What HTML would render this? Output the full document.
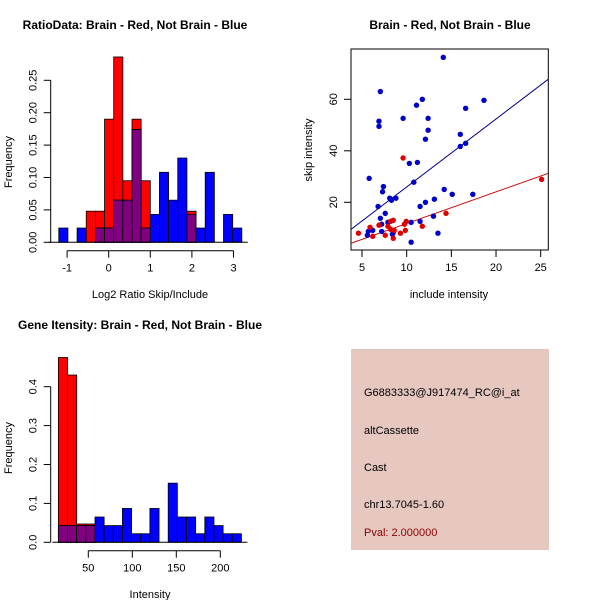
<!DOCTYPE html>
<html><head><meta charset="utf-8"><style>
body{margin:0;background:#fff}
svg{display:block;font-family:"Liberation Sans",sans-serif}
</style></head><body>
<svg id="c" width="600" height="600" viewBox="0 0 600 600">
<rect x="0" y="0" width="600" height="600" fill="#fff"/>
<g id="info">
<rect x="351" y="349" width="198" height="201" fill="#E6C8C1"/>
<text x="364" y="396" font-size="11">G6883333@J917474_RC@i_at</text>
<text x="364" y="434" font-size="11">altCassette</text>
<text x="364" y="471" font-size="11">Cast</text>
<text x="364" y="508" font-size="11">chr13.7045-1.60</text>
<text x="364" y="536" font-size="11" fill="#8B0000">Pval: 2.000000</text>
</g>
</svg>
<script>
// Panel 1: ratio histogram
const ratioBreakStart = -1.2, ratioBinWidth = 0.22;
const ratioRed = [0,0,0,0.048,0.048,0.19,0.286,0.095,0.19,0.095,0,0,0,0,0.048,0,0,0,0,0];
const ratioBlue = [0.022,0,0.022,0,0.022,0.022,0.065,0.065,0.174,0.022,0.043,0.108,0.065,0.13,0.043,0.022,0.108,0,0.043,0.022];
const ratioXTicks = [-1,0,1,2,3];
const ratioYTicks = [0,0.05,0.10,0.15,0.20,0.25];
const ratioYLabels = ["0.00","0.05","0.10","0.15","0.20","0.25"];
// Panel 2: scatter
const blueInclude = [14.1,7.05,11.75,18.65,11.1,16.6,6.9,6.9,9.6,12.4,12.4,12.1,16,16.6,16,11.2,10.3,10.8,5.8,7.4,7.3,14.2,15.1,17.4,8.8,8.1,8.3,13.1,12.1,11.5,6.8,7.6,13,7.05,7.9,7.2,11.5,10.5,5.7,6.2,7.2,8.5,8.4,5.6,13.5,10.5];
const blueSkip = [76.3,63,60,59.6,57.7,56.5,51.5,49.5,52.6,52.6,48,44.5,46.4,42.9,41.7,35.5,35.1,27.8,29.3,26.1,24.1,25,23.1,23.1,21.6,21.6,20.8,21.2,20,18.4,18.4,15.7,14.6,13.8,12.2,11.5,12.6,12.2,8.7,9.1,8.7,8.3,7.6,7.2,8,4.5];
const redInclude = [4.6,5.9,6.2,6.9,7.6,7.9,8.2,8.5,8.2,8.6,8.5,9.3,9.75,9.95,9.85,9.6,11.75,14.4,25.1];
const redSkip = [8,10.3,6.8,11.1,7.2,10.7,9.5,13,12.6,9.1,6,8,11.5,12.6,9.1,37.2,10.7,15.7,28.9];
const blueFit = [-0.45, 2.64]; // intercept, slope
const redFit = [-0.54, 1.23];
const scatXTicks = [5,10,15,20,25];
const scatYTicks = [20,40,60];
// Panel 3: intensity histogram
const intBreakStart = 16, intBinWidth = 10.4;
const intRed = [0.475,0.43,0.047,0.047,0,0,0,0,0,0,0,0,0,0,0,0,0,0,0,0];
const intBlue = [0.043,0.043,0.043,0.043,0.065,0.043,0.043,0.087,0.022,0.022,0.087,0,0.152,0.065,0.065,0.022,0.065,0.043,0.022,0.022];
const intXTicks = [50,100,150,200];
const intYTicks = [0,0.1,0.2,0.3,0.4];
const intYLabels = ["0.0","0.1","0.2","0.3","0.4"];

const NS="http://www.w3.org/2000/svg", svg=document.getElementById('c');
function el(tag, attrs, txt){const e=document.createElementNS(NS,tag);for(const k in attrs)e.setAttribute(k,attrs[k]);if(txt!==undefined)e.textContent=txt;svg.appendChild(e);return e;}
function lin(d0,d1,r0,r1){return v=>r0+(v-d0)*(r1-r0)/(d1-d0);}

function hist(prefix, sx, sy, start, w, red, blue){
  for(let i=0;i<red.length;i++){
    const x0=sx(start+i*w), x1=sx(start+(i+1)*w);
    if(red[i]>0){const r=el('rect',{x:x0,y:sy(red[i]),width:x1-x0,height:sy(0)-sy(red[i]),fill:'#FF0000',stroke:'#000','stroke-width':0.8});
      
      }
    if(blue[i]>0){const b=el('rect',{x:x0,y:sy(blue[i]),width:x1-x0,height:sy(0)-sy(blue[i]),fill:'#0000FF',stroke:'#000','stroke-width':0.8});
      
      }
    const m=Math.min(red[i],blue[i]);
    if(m>0){const p=el('rect',{x:x0,y:sy(m),width:x1-x0,height:sy(0)-sy(m),fill:'#800080',stroke:'#000','stroke-width':0.8});
      
      }
  }
}
function yAxis(prefix, ax, sy, ticks, labels){
  const l=el('line',{x1:ax,x2:ax,y1:sy(ticks[0]),y2:sy(ticks[ticks.length-1]),stroke:'#000'});
  
  
  ticks.forEach((t,i)=>{
    el('line',{x1:ax,x2:ax-7,y1:sy(t),y2:sy(t),stroke:'#000'});
    const tx=el('text',{x:ax-14,y:sy(t),'font-size':11,'text-anchor':'middle',transform:`rotate(-90 ${ax-14} ${sy(t)})`},labels[i]);
    
    
  });
}
function xAxis(prefix, ay, sx, ticks){
  const l=el('line',{x1:sx(ticks[0]),x2:sx(ticks[ticks.length-1]),y1:ay,y2:ay,stroke:'#000'});
  
  
  ticks.forEach(t=>{
    el('line',{x1:sx(t),x2:sx(t),y1:ay,y2:ay+7,stroke:'#000'});
    const tx=el('text',{x:sx(t),y:ay+21,'font-size':11,'text-anchor':'middle'},String(t));
    
    
  });
}
function label(name,x,y,txt,opts){const t=el('text',Object.assign({x:x,y:y,'font-size':11,'text-anchor':'middle'},opts||{}),txt);
  
  }

// Panel 1
{const sx=lin(0,1,108.7,150.3), sy=lin(0,0.25,242.3,80.3);
 hist('ratio',sx,sy,ratioBreakStart,ratioBinWidth,ratioRed,ratioBlue);
 el('line',{x1:sx(ratioBreakStart)-10,x2:sx(ratioBreakStart+20*ratioBinWidth)+6,y1:sy(0),y2:sy(0),stroke:'#000'});
 yAxis('ratio',50.7,sy,ratioYTicks,ratioYLabels);
 xAxis('ratio',250.7,sx,ratioXTicks);
 label('ratio-title',135,29,'RatioData: Brain - Red, Not Brain - Blue',{'font-weight':'bold','font-size':12});
 label('ratio-x-title',150,298,'Log2 Ratio Skip/Include');
 label('ratio-y-title',12,162,'Frequency',{transform:'rotate(-90 12 162)'});}

// Panel 2
{const sx=lin(5,25,362,540.7), sy=lin(20,60,202.3,99.3);
 const box=el('rect',{x:351,y:49,width:197.3,height:201,fill:'none',stroke:'#000'});
 
 
 const cp=el('clipPath',{id:'cl'});const cr=document.createElementNS(NS,'rect');
 cr.setAttribute('x',351);cr.setAttribute('y',49);cr.setAttribute('width',197.3);cr.setAttribute('height',201);cp.appendChild(cr);
 const xa=3.77, xb=25.86;
 const bl=el('line',{x1:sx(xa),y1:sy(blueFit[0]+blueFit[1]*xa),x2:sx(xb),y2:sy(blueFit[0]+blueFit[1]*xb),stroke:'#00008B','clip-path':'url(#cl)'});
 
 
 const rl=el('line',{x1:sx(xa),y1:sy(redFit[0]+redFit[1]*xa),x2:sx(xb),y2:sy(redFit[0]+redFit[1]*xb),stroke:'#CD0000','clip-path':'url(#cl)'});
 
 
 blueInclude.forEach((v,i)=>{const c=el('circle',{cx:sx(v),cy:sy(blueSkip[i]),r:2.7,fill:'#0000CD'});
   
   });
 redInclude.forEach((v,i)=>{const c=el('circle',{cx:sx(v),cy:sy(redSkip[i]),r:2.7,fill:'#E00000'});
   
   });
 scatXTicks.forEach(t=>{el('line',{x1:sx(t),x2:sx(t),y1:250,y2:257,stroke:'#000'});
   const tx=el('text',{x:sx(t),y:271,'font-size':11,'text-anchor':'middle'},String(t));
   
   });
 scatYTicks.forEach(t=>{el('line',{x1:351,x2:344,y1:sy(t),y2:sy(t),stroke:'#000'});
   const tx=el('text',{x:337,y:sy(t),'font-size':11,'text-anchor':'middle',transform:`rotate(-90 337 ${sy(t)})`},String(t));
   
   });
 label('scatter-title',450,29,'Brain - Red, Not Brain - Blue',{'font-weight':'bold','font-size':12});
 label('scatter-x-title',449,298,'include intensity');
 label('scatter-y-title',312,150,'skip intensity',{transform:'rotate(-90 312 150)'});}

// Panel 3
{const sx=lin(50,200,88.3,220.3), sy=lin(0,0.4,542.3,386.7);
 hist('intensity',sx,sy,intBreakStart,intBinWidth,intRed,intBlue);
 el('line',{x1:sx(intBreakStart)-6,x2:sx(intBreakStart+20*intBinWidth)+6,y1:sy(0),y2:sy(0),stroke:'#000'});
 yAxis('intensity',50.7,sy,intYTicks,intYLabels);
 xAxis('intensity',550.7,sx,intXTicks);
 label('intensity-title',140,329,'Gene Itensity: Brain - Red, Not Brain - Blue',{'font-weight':'bold','font-size':12});
 label('intensity-x-title',150,598,'Intensity');
 label('intensity-y-title',12,448,'Frequency',{transform:'rotate(-90 12 448)'});}
</script>
</body></html>
